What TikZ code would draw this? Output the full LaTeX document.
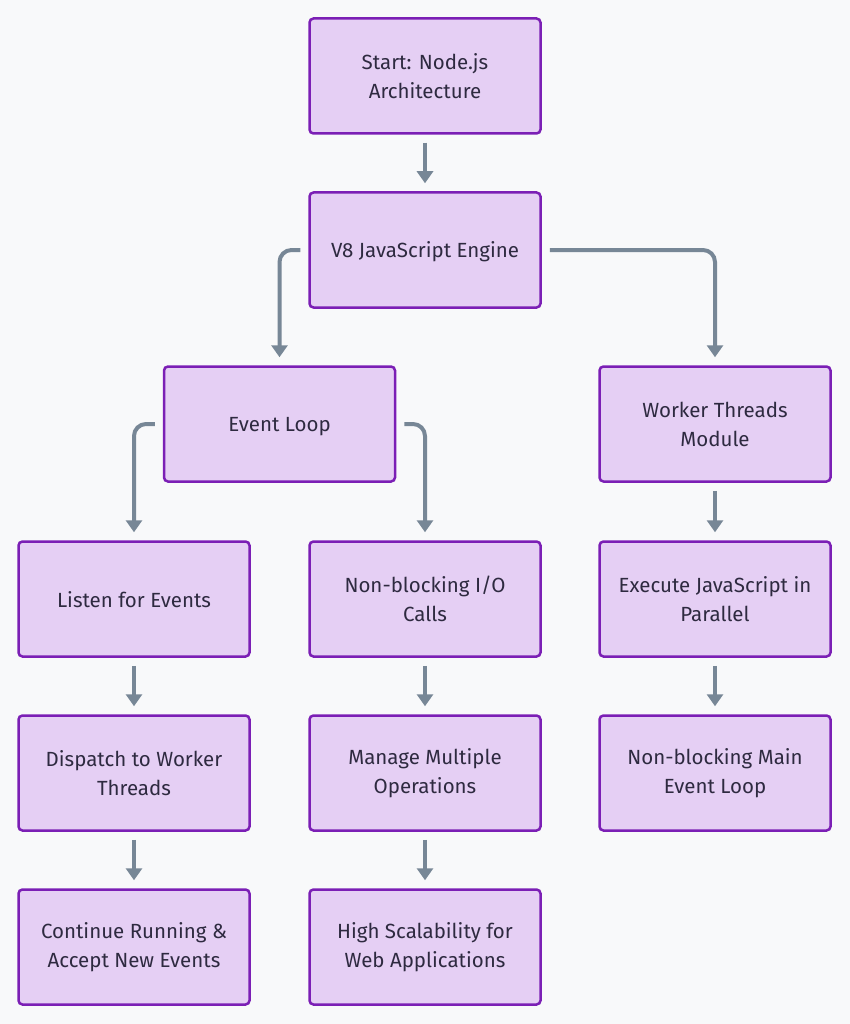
\documentclass[tikz,border=0pt]{standalone}
\usepackage{fontspec}
\setmainfont{Fira Sans}
\usetikzlibrary{arrows.meta}
\definecolor{bg}{HTML}{F8F9FA}
\definecolor{boxfill}{HTML}{E5CFF4}
\definecolor{boxborder}{HTML}{7B1FB5}
\definecolor{txt}{HTML}{2E2A40}
\definecolor{arrowc}{HTML}{778796}
\begin{document}
\begin{tikzpicture}[x=1pt,y=1pt,
  box/.style={draw=boxborder, fill=boxfill, line width=2.5pt, rounded corners=4pt,
    minimum width=231pt, minimum height=115pt, align=center, text=txt,
    font=\fontsize{20.5}{29}\selectfont, inner sep=0pt},
  oneline/.style={text depth=0pt},
  arr/.style={draw=arrowc, line width=4pt, -{Triangle[width=16pt,length=12pt]}, rounded corners=12pt}]
\fill[bg] (0,0) rectangle (850,-1024);
\useasboundingbox (0,0) rectangle (850,-1024);
\node[box] (start) at (425,-76) {Start: Node.js\\Architecture};
\node[box,oneline] (v8) at (425,-250) {V8 JavaScript Engine};
\node[box,oneline] (ev) at (279.5,-424) {Event Loop};
\node[box] (wt) at (715,-424) {Worker Threads\\Module};
\node[box,oneline] (listen) at (134,-599) {Listen for Events};
\node[box] (nbio) at (425,-599) {Non-blocking I/O\\Calls};
\node[box] (exec) at (715,-599) {Execute JavaScript in\\Parallel};
\node[box] (disp) at (134,-773) {Dispatch to Worker\\Threads};
\node[box] (mmo) at (425,-773) {Manage Multiple\\Operations};
\node[box] (nbm) at (715,-773) {Non-blocking Main\\Event Loop};
\node[box] (cont) at (134,-947) {Continue Running \&\\Accept New Events};
\node[box] (high) at (425,-947) {High Scalability for\\Web Applications};

\draw[arr] ([yshift=-8pt]start.south) -- ([yshift=8pt]v8.north);
\draw[arr] ([xshift=-8pt]v8.west) -| ([yshift=8pt]ev.north);
\draw[arr] ([xshift=8pt]v8.east) -| ([yshift=8pt]wt.north);
\draw[arr] ([xshift=-8pt]ev.west) -| ([yshift=8pt]listen.north);
\draw[arr] ([xshift=8pt]ev.east) -| ([yshift=8pt]nbio.north);
\draw[arr] ([yshift=-8pt]wt.south) -- ([yshift=8pt]exec.north);
\draw[arr] ([yshift=-8pt]listen.south) -- ([yshift=8pt]disp.north);
\draw[arr] ([yshift=-8pt]nbio.south) -- ([yshift=8pt]mmo.north);
\draw[arr] ([yshift=-8pt]exec.south) -- ([yshift=8pt]nbm.north);
\draw[arr] ([yshift=-8pt]disp.south) -- ([yshift=8pt]cont.north);
\draw[arr] ([yshift=-8pt]mmo.south) -- ([yshift=8pt]high.north);
\end{tikzpicture}
\end{document}
